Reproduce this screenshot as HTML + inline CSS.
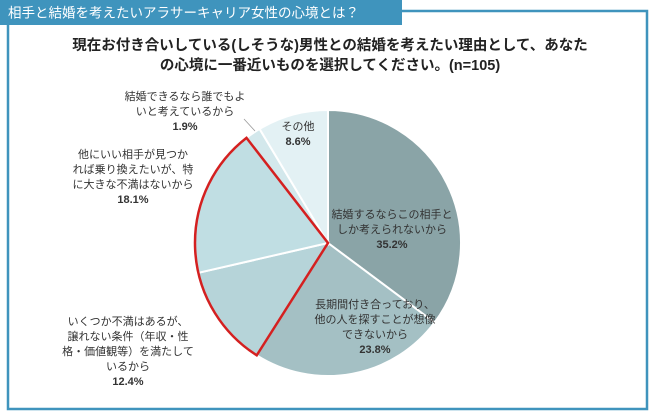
<!DOCTYPE html>
<html><head><meta charset="utf-8"><style>
body{margin:0;width:650px;height:411px;background:#fff;overflow:hidden;font-family:"Liberation Sans","Noto Sans CJK JP",sans-serif}
</style></head><body>
<svg width="650" height="411" style="position:absolute;left:0;top:0">
<path d="M400 11 H647 V409 H8 V25" fill="none" stroke="#3f94bd" stroke-width="2.5"/>
<rect x="0" y="0" width="402" height="25" fill="#3f94bd"/>
<text x="8" y="17.5" font-size="13.5" fill="#fff">相手と結婚を考えたいアラサーキャリア女性の心境とは？</text>
<text x="330" y="50" font-size="14.5" text-anchor="middle" font-weight="bold" fill="#222">現在お付き合いしている(しそうな)男性との結婚を考えたい理由として、あなた</text>
<text x="330" y="70" font-size="14.5" text-anchor="middle" font-weight="bold" fill="#222">の心境に一番近いものを選択してください。(n=105)</text>
<g id="pie"></g>
<g id="labels" font-size="11" fill="#333" text-anchor="middle"></g>
<line x1="244" y1="119" x2="255" y2="131" stroke="#999" stroke-width="0.8"/>
</svg>
<script>
const categories=["結婚するならこの相手としか考えられないから","長期間付き合っており、他の人を探すことが想像できないから","いくつか不満はあるが、譲れない条件を満たしているから","他にいい相手が見つかれば乗り換えたいが、特に大きな不満はないから","結婚できるなら誰でもよいと考えているから","その他"];
const values=[35.2,23.8,12.4,18.1,1.9,8.6];
const colors=["#8aa4a7","#a4c0c4","#b6d4d9","#c0dee3","#d3e8ec","#e3f1f4"];
const labelLines=[["結婚するならこの相手と","しか考えられないから"],["長期間付き合っており、","他の人を探すことが想像","できないから"],["いくつか不満はあるが、","譲れない条件（年収・性","格・価値観等）を満たして","いるから"],["他にいい相手が見つか","れば乗り換えたいが、特","に大きな不満はないから"],["結婚できるなら誰でもよ","いと考えているから"],["その他"]];
const labelPos=[[392,218],[375,308],[128,325],[133,158],[185,100],[298,130]];
const cx=328,cy=243,r=133;
const ns="http://www.w3.org/2000/svg";
const total=values.reduce((a,b)=>a+b,0);
const pt=a=>[cx+r*Math.sin(a),cy-r*Math.cos(a)];
const pie=document.getElementById('pie');
let a0=0;const angles=[];
values.forEach((v,i)=>{
 const a1=a0+v/total*2*Math.PI;angles.push([a0,a1]);
 const p0=pt(a0),p1=pt(a1);
 const p=document.createElementNS(ns,'path');
 p.setAttribute('d',`M${cx},${cy}L${p0[0]},${p0[1]}A${r},${r} 0 ${a1-a0>Math.PI?1:0} 1 ${p1[0]},${p1[1]}Z`);
 p.setAttribute('fill',colors[i]);p.setAttribute('stroke','#fff');p.setAttribute('stroke-width','2');
 
 
 pie.appendChild(p);a0=a1;
});
// red highlight around slices 2 and 3
{const s=angles[2][0],e=angles[3][1],p0=pt(s),p1=pt(e);
 const p=document.createElementNS(ns,'path');
 p.setAttribute('d',`M${cx},${cy}L${p0[0]},${p0[1]}A${r},${r} 0 ${e-s>Math.PI?1:0} 1 ${p1[0]},${p1[1]}Z`);
 p.setAttribute('fill','none');p.setAttribute('stroke','#d42020');p.setAttribute('stroke-width','2.5');
 
 
 pie.appendChild(p);}
const lg=document.getElementById('labels');
values.forEach((v,i)=>{
 const lines=labelLines[i].concat([v.toFixed(1)+'%']);
 lines.forEach((t,j)=>{
  const tx=document.createElementNS(ns,'text');
  tx.setAttribute('x',labelPos[i][0]);tx.setAttribute('y',labelPos[i][1]+j*15);
  if(j==lines.length-1)tx.setAttribute('font-weight','bold');
  tx.textContent=t;
  
  
  lg.appendChild(tx);
 });
});
</script>
</body></html>
